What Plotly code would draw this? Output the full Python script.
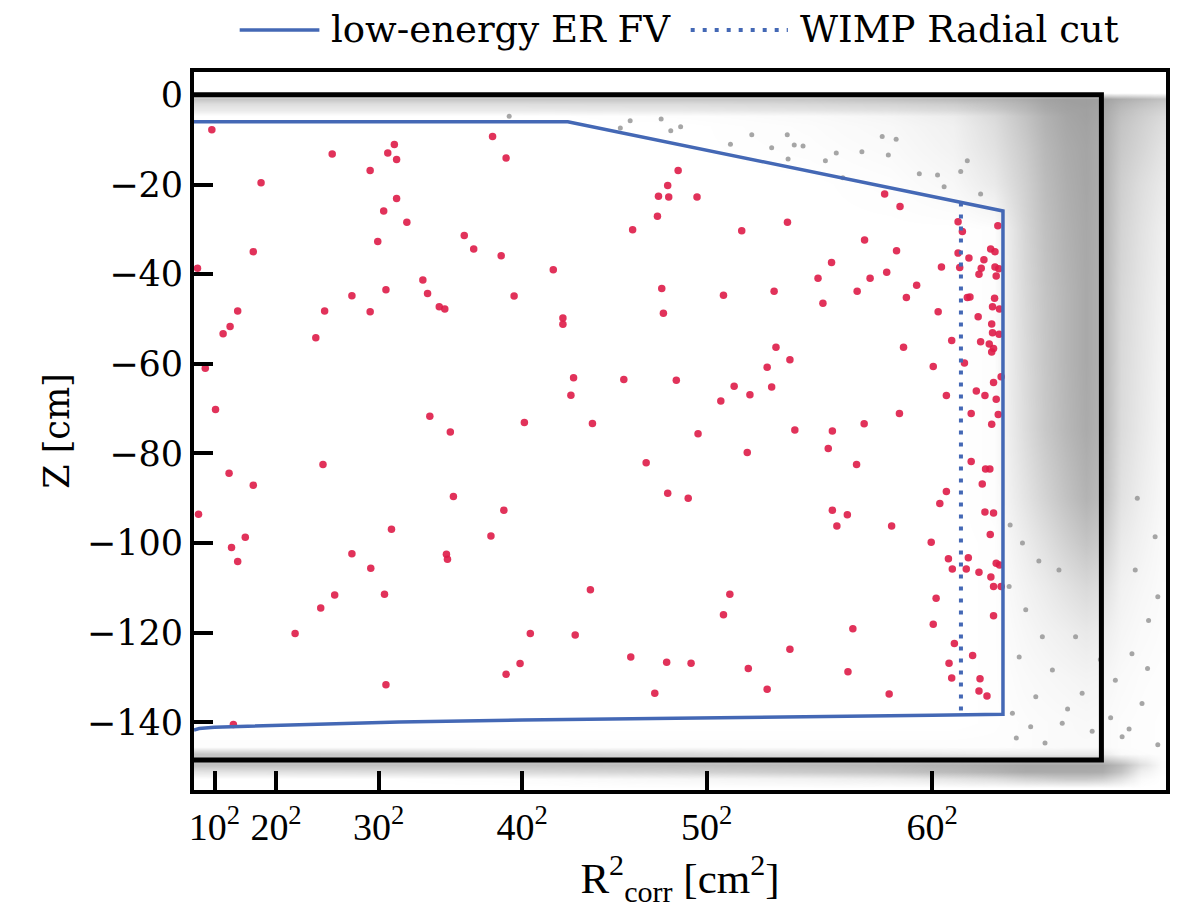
import plotly.graph_objects as go

# ---------------- data ----------------
# selected events (red): R^2 [cm^2], Z [cm]
sel_r2 = [87, 674, 977, 945, 988, 859, 327, 988, 925, 1038, 896, 1318, 289, 17, 1116, 936, 1139, 770, 1196, 1223,
          1456, 1522, 2361, 2310, 2265, 2315, 2453, 2260, 2139, 1364, 1498, 1752, 2281, 1561, 2582,
          3368, 3443, 2894, 2671, 3270, 3426, 3109, 3726, 3747, 3920, 3885, 3906, 3726, 3779, 3852, 3839, 3645,
          3734, 3906, 3925, 3828, 3912, 3043, 3297, 3378, 3524, 2829, 3234, 3474, 3771, 3784, 3904, 3067,
          213, 637, 859, 176, 142, 594, 55, 105, 1150, 1250, 629, 171, 289, 1265, 22,
          1799, 1799, 2289, 1851, 2096, 2352, 2634, 1838, 2569, 1611, 1943, 2458, 2205, 2310, 2410, 1511,
          3629, 3824, 3894, 3928, 3890, 3894, 3926, 3695, 3836, 3878, 3899, 3890, 2838, 3460, 2906, 2795, 3605,
          3757, 3936, 2817, 2711, 3899, 3815, 3857, 3669, 3912, 3440, 3790, 3922, 3268, 3890, 2930, 3113, 2698,
          3093, 3231, 3790, 3860, 3881, 3844, 3669, 3637, 3113, 3186, 3857, 3899,
          963, 250, 183, 213, 770, 862, 1231, 1236, 686, 929, 618, 493, 936, 192,
          1448, 1933, 2613, 2582, 1640, 1859, 1590, 1522, 2130, 2305, 2424, 2247,
          3135, 3402, 3883, 3595, 3679, 3776, 3698, 3766, 3828, 3912, 3928, 3886, 3899, 3936, 3619, 3213, 3899,
          3605, 2906, 3708, 3797, 3682, 2703, 3189, 3695, 3833, 2795, 3390, 3828, 3867]
sel_z = [-7.8, -13.2, -11.1, -13.0, -14.4, -16.9, -19.6, -23.1, -25.9, -28.4, -32.7, -31.4, -35.0, -38.7, -41.3,
         -43.5, -44.3, -44.8, -47.3, -47.8,
         -9.3, -14.1, -16.9, -20.2, -22.6, -22.8, -22.8, -27.1, -30.1, -34.4, -35.9, -39.0, -43.2, -44.9, -44.7,
         -22.1, -24.9, -28.4, -30.3, -32.4, -34.8, -37.4, -28.3, -30.5, -29.2, -34.4, -35.0, -35.3, -36.4, -36.8,
         -38.7, -38.4, -38.5, -38.4, -38.8, -40.0, -40.4, -40.9, -40.9, -39.6, -42.5, -43.8, -43.8, -45.2, -45.2,
         -45.1, -45.4, -46.5,
         -48.2, -48.2, -48.4, -51.7, -53.3, -54.2, -61.0, -70.2, -71.7, -75.2, -82.5, -84.4, -87.1, -89.6, -93.6,
         -49.8, -51.2, -48.7, -63.1, -63.5, -63.7, -65.0, -67.0, -68.3, -73.1, -73.3, -75.6, -82.1, -88.9, -90.0,
         -92.7,
         -48.4, -49.5, -47.3, -47.8, -51.1, -53.1, -53.4, -54.8, -55.1, -55.6, -56.6, -57.4, -56.3, -56.3, -59.1,
         -60.8, -60.6, -59.8, -62.9, -65.2, -66.9, -64.2, -66.1, -67.1, -67.1, -67.9, -71.1, -71.1, -71.3, -73.4,
         -73.5, -74.8, -75.0, -79.8, -78.9, -82.5, -81.8, -83.5, -83.5, -86.8, -88.5, -91.2, -92.7, -93.7, -93.1,
         -93.3,
         -96.9, -98.7, -101.0, -104.1, -102.4, -105.6, -102.5, -103.6, -111.6, -111.4, -114.5, -120.2, -131.6,
         -140.5,
         -98.4, -110.4, -111.4, -116.0, -120.2, -120.5, -126.9, -129.3, -125.4, -126.6, -126.8, -133.5,
         -96.2, -96.2, -98.1, -99.8, -103.5, -103.3, -105.8, -105.8, -106.5, -104.5, -104.9, -107.6, -109.7,
         -109.7, -112.3, -119.1, -116.2, -118.1, -123.7, -122.4, -125.1, -126.8, -128.0, -128.7, -130.1, -130.3,
         -132.6, -133.7, -133.0, -134.1]

# isolated background events (grey) outside the fiducial volume
bkg_r2 = [2720, 2817, 2893, 2927, 2970, 2897, 3079, 3132, 3164, 3257, 3386, 3356, 3424, 3537, 3626, 3658, 3739,
          3836, 3771, 2079, 2127, 2278, 2325, 2373, 2616, 1537,
          3975, 4056, 4137, 4024, 4186, 4105, 3991, 4234, 4331, 4299, 4493, 4574, 4655, 4623, 4526, 4218, 4590,
          4687, 4010, 4080, 4150, 4260, 4380, 4470, 4560, 4650, 4700, 4040, 4120, 4420, 3980, 4700, 4600]
bkg_z = [-8.9, -11.8, -8.9, -11.2, -11.4, -14.3, -14.7, -13.0, -18.5, -12.7, -13.4, -9.3, -9.9, -17.6, -17.9,
         -20.5, -17.1, -22.1, -14.7, -7.4, -5.8, -5.4, -8.0, -7.1, -11.0, -4.8,
         -109.7, -114.9, -120.9, -125.4, -128.3, -134.3, -138.0, -140.2, -133.5, -120.9, -130.6, -124.7, -117.3,
         -135.8, -143.2, -106.0, -106.0, -98.6, -143.5, -141.0, -144.6, -137.0, -142.0, -139.0, -141.5, -128.0,
         -145.0, -100.0, -104.0, -126.0, -96.0, -112.0, -90.0]

# relative density (0..1) of the dense background population
dens_r2 = [0, 800, 1600, 2400, 3000, 3400, 3700, 3900, 4050, 4150, 4250, 4350, 4430, 4520, 4620, 4720]
dens_z = [0.5, -0.8, -2, -3.3, -4.6, -7, -12, -20, -30, -45, -60, -75, -90, -100, -110, -120, -130, -140,
          -145.5, -147, -149.5, -151, -152.5, -154.5]
dens = [
    [0] * 16,
    [0.55, 0.55, 0.55, 0.55, 0.55, 0.6, 0.65, 0.72, 0.8, 0.88, 0.92, 0.92, 0.9, 0.78, 0.7, 0.6],
    [0.32, 0.32, 0.32, 0.34, 0.38, 0.42, 0.48, 0.6, 0.72, 0.84, 0.9, 0.92, 0.88, 0.7, 0.6, 0.5],
    [0.2, 0.2, 0.2, 0.22, 0.26, 0.3, 0.36, 0.5, 0.66, 0.8, 0.88, 0.9, 0.86, 0.64, 0.52, 0.42],
    [0, 0, 0, 0.02, 0.05, 0.1, 0.18, 0.36, 0.58, 0.74, 0.85, 0.9, 0.84, 0.6, 0.48, 0.36],
    [0, 0, 0, 0, 0.03, 0.07, 0.14, 0.32, 0.55, 0.72, 0.83, 0.88, 0.82, 0.56, 0.44, 0.32],
    [0, 0, 0, 0, 0.02, 0.05, 0.12, 0.28, 0.5, 0.68, 0.8, 0.86, 0.8, 0.52, 0.4, 0.27],
    [0, 0, 0, 0, 0, 0.02, 0.07, 0.2, 0.45, 0.64, 0.77, 0.85, 0.78, 0.46, 0.32, 0.21],
    [0, 0, 0, 0, 0, 0, 0, 0.02, 0.4, 0.6, 0.74, 0.83, 0.76, 0.42, 0.28, 0.16],
    [0, 0, 0, 0, 0, 0, 0, 0.02, 0.37, 0.56, 0.7, 0.82, 0.74, 0.38, 0.25, 0.13],
    [0, 0, 0, 0, 0, 0, 0, 0.02, 0.35, 0.54, 0.7, 0.82, 0.74, 0.36, 0.23, 0.11],
    [0, 0, 0, 0, 0, 0, 0, 0.02, 0.33, 0.52, 0.68, 0.8, 0.72, 0.34, 0.21, 0.09],
    [0, 0, 0, 0, 0, 0, 0, 0.02, 0.26, 0.42, 0.58, 0.72, 0.64, 0.28, 0.16, 0.07],
    [0, 0, 0, 0, 0, 0, 0, 0.01, 0.18, 0.3, 0.44, 0.56, 0.5, 0.2, 0.12, 0.05],
    [0, 0, 0, 0, 0, 0, 0, 0.01, 0.12, 0.19, 0.28, 0.36, 0.32, 0.13, 0.08, 0.04],
    [0, 0, 0, 0, 0, 0, 0, 0.01, 0.08, 0.12, 0.16, 0.21, 0.18, 0.09, 0.05, 0.03],
    [0, 0, 0, 0, 0, 0, 0, 0.01, 0.05, 0.07, 0.09, 0.11, 0.1, 0.05, 0.03, 0.02],
    [0, 0, 0, 0, 0, 0, 0, 0.01, 0.03, 0.04, 0.05, 0.06, 0.05, 0.03, 0.02, 0.01],
    [0.02, 0.02, 0.02, 0.02, 0.02, 0.02, 0.02, 0.02, 0.03, 0.04, 0.05, 0.05, 0.05, 0.03, 0.02, 0.01],
    [0.55, 0.5, 0.42, 0.35, 0.3, 0.25, 0.22, 0.2, 0.2, 0.2, 0.2, 0.2, 0.2, 0.05, 0.03, 0.02],
    [0.6, 0.6, 0.6, 0.62, 0.66, 0.7, 0.75, 0.8, 0.85, 0.85, 0.85, 0.85, 0.85, 0.65, 0.3, 0.03],
    [0.25, 0.3, 0.35, 0.42, 0.5, 0.56, 0.65, 0.72, 0.8, 0.8, 0.8, 0.8, 0.78, 0.55, 0.15, 0.02],
    [0, 0, 0.03, 0.08, 0.12, 0.18, 0.25, 0.32, 0.42, 0.46, 0.5, 0.5, 0.46, 0.28, 0.05, 0],
    [0] * 16,
]

# TPC boundary
tpc_r2 = [0, 4425, 4425, 0]
tpc_z = [0, 0, -148.4, -148.4]

# low-energy ER fiducial volume boundary
fv_r2 = [0, 1823, 3945, 3945, 3600, 2500, 1600, 1000, 500, 250, 100, 25, 0]
fv_z = [-6.0, -6.0, -25.9, -138.2, -138.4, -138.9, -139.5, -139.9, -140.5, -140.8, -141.1, -141.4, -141.7]

# WIMP radial cut
cut_r2 = [3740, 3740]
cut_z = [-24.0, -138.3]

# axis ticks
x_tickvals = [100, 400, 900, 1600, 2500, 3600]
x_ticktext = ["10<sup>2</sup>", "20<sup>2</sup>", "30<sup>2</sup>", "40<sup>2</sup>", "50<sup>2</sup>", "60<sup>2</sup>"]
y_tickvals = [0, -20, -40, -60, -80, -100, -120, -140]

legend_labels = ["low-energy ER FV", "WIMP Radial cut"]

BLUE = "#4468b5"

fig = go.Figure()

fig.add_trace(go.Heatmap(
    x=dens_r2, y=dens_z, z=dens, zmin=0, zmax=1, zsmooth="best",
    colorscale=[[0, "rgba(150,150,150,0)"], [1, "rgba(150,150,150,1)"]],
    showscale=False, hoverinfo="skip"))

fig.add_trace(go.Scatter(
    x=bkg_r2, y=bkg_z, mode="markers", showlegend=False,
    marker=dict(size=5, color="rgba(150,150,150,0.85)")))

fig.add_trace(go.Scatter(
    x=sel_r2, y=sel_z, mode="markers", showlegend=False,
    marker=dict(size=7.5, color="rgba(222,28,72,0.9)")))

fig.add_trace(go.Scatter(
    x=tpc_r2, y=tpc_z, mode="lines", showlegend=False,
    line=dict(color="black", width=5)))

fig.add_trace(go.Scatter(
    x=fv_r2, y=fv_z, mode="lines", name=legend_labels[0], showlegend=False,
    line=dict(color=BLUE, width=3.5)))

fig.add_trace(go.Scatter(
    x=cut_r2, y=cut_z, mode="lines", name=legend_labels[1], showlegend=False,
    line=dict(color=BLUE, width=4, dash="4px,8px")))

# legend (drawn above the axes, as in the original)
LEG_Y = 1.0585
fig.add_shape(type="line", xref="paper", yref="paper", x0=0.047, x1=0.129, y0=LEG_Y, y1=LEG_Y,
              line=dict(color=BLUE, width=3.5))
fig.add_shape(type="line", xref="paper", yref="paper", x0=0.511, x1=0.611, y0=LEG_Y, y1=LEG_Y,
              line=dict(color=BLUE, width=4, dash="4px,8px"))
for xp, lab in zip([0.139, 0.621], legend_labels):
    fig.add_annotation(xref="paper", yref="paper", x=xp, y=LEG_Y, xanchor="left", yanchor="middle",
                       text=lab, showarrow=False,
                       font=dict(family="DejaVu Serif", size=37, color="black"))

fig.update_layout(
    width=1179, height=910,
    margin=dict(l=194, r=9, t=72, b=120),
    paper_bgcolor="white", plot_bgcolor="white",
    showlegend=False,
    xaxis=dict(range=[0, 4740], showgrid=False, zeroline=False,
               showline=True, mirror=True, linecolor="black", linewidth=4,
               ticks="inside", ticklen=19, tickwidth=3.5, tickcolor="black",
               tickvals=x_tickvals, ticktext=x_ticktext, ticklabelstandoff=0,
               tickfont=dict(family="Liberation Serif", size=38, color="black"),
               title=dict(text="R<sup>2</sup><sub>corr</sub> [cm<sup>2</sup>]",
                          font=dict(family="Liberation Serif", size=43, color="black"), standoff=14)),
    yaxis=dict(range=[-155.1, 5.1], showgrid=False, zeroline=False,
               showline=True, mirror=True, linecolor="black", linewidth=4,
               ticks="inside", ticklen=19, tickwidth=3.5, tickcolor="black",
               tickvals=y_tickvals,
               tickfont=dict(family="DejaVu Serif", size=35, color="black"),
               title=dict(text="Z [cm]", font=dict(family="DejaVu Serif", size=35, color="black"), standoff=8)),
)

fig.write_html("out.html")
